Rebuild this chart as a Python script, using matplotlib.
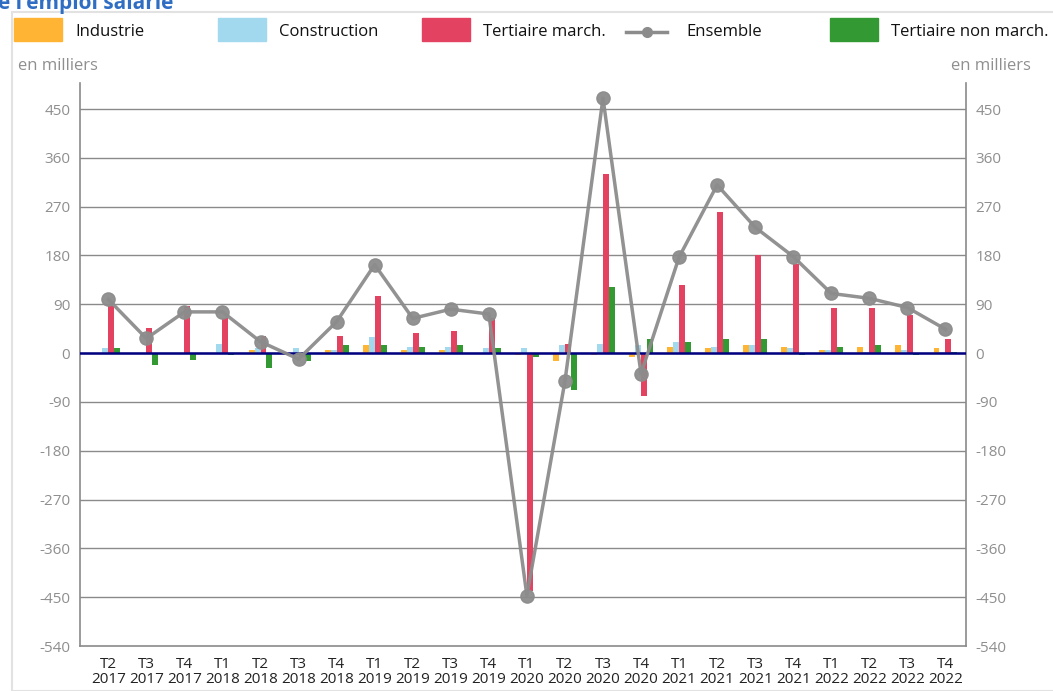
import matplotlib
matplotlib.use("Agg")
import matplotlib.pyplot as plt
import numpy as np
from matplotlib.patches import Rectangle
from matplotlib.lines import Line2D

plt.rcParams["font.family"] = ["Open Sans", "DejaVu Sans"]

quarters = ["T2", "T3", "T4", "T1", "T2", "T3", "T4", "T1", "T2", "T3", "T4", "T1",
            "T2", "T3", "T4", "T1", "T2", "T3", "T4", "T1", "T2", "T3", "T4"]
years = ["2017", "2017", "2017", "2018", "2018", "2018", "2018", "2019", "2019", "2019",
         "2019", "2020", "2020", "2020", "2020", "2021", "2021", "2021", "2021", "2022",
         "2022", "2022", "2022"]

industrie = [-2, -2, -2, -2, 5, -2, 5, 15, 5, 5, -2, -3, -14, -3, -7, 11, 9, 15, 11, 5, 11, 15, 9]
construction = [9, -1, -1, 16, 9, 9, 5, 29, 11, 11, 9, 9, 15, 16, 15, 20, 11, 15, 9, 5, 2, 5, 2]
tertiaire_march = [86, 46, 86, 64, 31, -8, 31, 105, 37, 40, 64, -438, 17, 330, -79, 125,
                   261, 180, 165, 84, 84, 70, 26]
tertiaire_non_march = [9, -21, -12, -3, -27, -14, 15, 15, 11, 15, 9, -7, -68, 121, 26, 20,
                       26, 26, -4, 11, 15, -4, 2]
ensemble = [99, 27, 76, 76, 21, -11, 58, 163, 64, 81, 72, -447, -52, 470, -38, 177, 310,
            232, 178, 110, 101, 84, 44]

yticks = list(range(-540, 451, 90))

C_IND = "#FFB533"
C_CON = "#A2D9EE"
C_TM = "#E34361"
C_TNM = "#339A33"
C_ENS = "#8C8C8C"
GRID = "#8A8A8A"
TICK = "#8F8F8F"

W, H = 1053, 691
fig = plt.figure(figsize=(W / 100, H / 100), dpi=100)

# frame of the card and cut-off title
fig.patches.append(Rectangle((12 / W, 0), 1.2, 1 - 12 / H, transform=fig.transFigure,
                             fill=False, edgecolor="#E2E2E2", linewidth=1.5))
fig.text(-2 / W, 1 - 3 / H, "e l'emploi salarié", color="#2F6EC3", fontsize=15,
         fontweight="bold", ha="left", va="center")

ax = fig.add_axes([80 / W, 1 - 646 / H, 886 / W, (646 - 83) / H])
x = np.arange(len(quarters))
bw = 0.157

ax.bar(x - 1.5 * bw, industrie, bw, color=C_IND, zorder=3)
ax.bar(x - 0.5 * bw, construction, bw, color=C_CON, zorder=3)
ax.bar(x + 0.5 * bw, tertiaire_march, bw, color=C_TM, zorder=3)
ax.bar(x + 1.5 * bw, tertiaire_non_march, bw, color=C_TNM, zorder=3)
ax.axhline(0, color="#000080", linewidth=1.8, zorder=4)
ax.plot(x, ensemble, color=C_ENS, linewidth=2.5, marker="o", markersize=9.5,
        alpha=0.95, zorder=5)

ax.set_xlim(-0.744, 22.54)
ax.set_ylim(-540, 498)
ax.set_yticks(yticks)
ax.set_yticklabels([str(v) for v in yticks])
for v in yticks[1:]:
    ax.axhline(v, color=GRID, linewidth=1, zorder=1)

ax.set_xticks(x)
ax.set_xticklabels([f"{q}\n{y}" for q, y in zip(quarters, years)], fontsize=11,
                   color="#222222", linespacing=1.0)
ax.tick_params(axis="x", length=0, pad=8)
ax.tick_params(axis="y", length=0, pad=7, labelsize=11, labelcolor=TICK,
               labelright=True)

for side in ["left", "right", "bottom"]:
    ax.spines[side].set_color(GRID)
    ax.spines[side].set_linewidth(1.2)
ax.spines["top"].set_visible(False)

fig.text(18 / W, 1 - 66 / H, "en milliers", color=TICK, fontsize=12, ha="left", va="center")
fig.text(1031 / W, 1 - 66 / H, "en milliers", color=TICK, fontsize=12, ha="right", va="center")

# legend drawn across the top
legend_items = [("Industrie", C_IND, "patch"), ("Construction", C_CON, "patch"),
                ("Tertiaire march.", C_TM, "patch"), ("Ensemble", C_ENS, "line"),
                ("Tertiaire non march.", C_TNM, "patch")]
for i, (label, col, kind) in enumerate(legend_items):
    x0 = 14 + 204 * i
    if kind == "patch":
        fig.patches.append(Rectangle((x0 / W, 1 - 41 / H), 48 / W, 23 / H,
                                     transform=fig.transFigure, color=col))
        tx = x0 + 61
    else:
        fig.add_artist(Line2D([x0 / W, (x0 + 41) / W], [1 - 32 / H, 1 - 32 / H],
                              transform=fig.transFigure, color=col, linewidth=2.5))
        fig.add_artist(Line2D([(x0 + 21) / W], [1 - 32 / H], transform=fig.transFigure,
                              color=col, marker="o", markersize=7))
        tx = x0 + 60
    fig.text(tx / W, 1 - 32 / H, label, fontsize=12, color="#111111", ha="left",
             va="center")

fig.savefig("out.png", dpi=100)
